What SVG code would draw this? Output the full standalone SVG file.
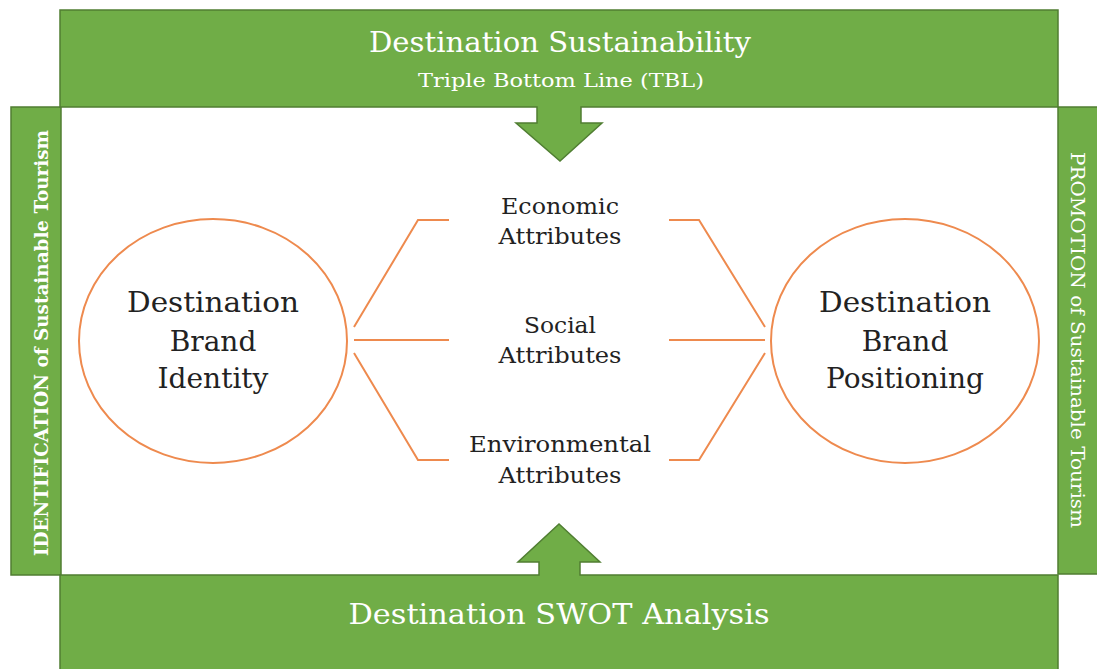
<svg xmlns="http://www.w3.org/2000/svg" width="1097" height="669" viewBox="0 0 1097 669">
<style>
.band{fill:#70AD47;stroke:#507E32;stroke-width:1.5}
.wt{fill:#FFFFFF;font-family:"DejaVu Serif","Liberation Serif",serif}
.bold{font-weight:bold}
.bt{fill:#222222;font-family:"DejaVu Serif","Liberation Serif",serif;text-anchor:middle}
.ring{fill:#FFFFFF;stroke:#EE8A4E;stroke-width:2}
.link{fill:none;stroke:#EE8A4E;stroke-width:2}
</style>
<rect width="1097" height="669" fill="#FFFFFF"/>
<g id="identification">
<rect class="band" x="11" y="107" width="50" height="468"/>
<text class="wt bold" transform="translate(48,343) rotate(-90)" text-anchor="middle" font-size="18" textLength="426" lengthAdjust="spacingAndGlyphs">IDENTIFICATION of Sustainable Tourism</text>
</g>
<g id="promotion">
<rect class="band" x="1058" y="107" width="45" height="467"/>
<text class="wt" transform="translate(1071,340) rotate(90)" text-anchor="middle" font-size="19" textLength="376" lengthAdjust="spacingAndGlyphs">PROMOTION of Sustainable Tourism</text>
</g>
<g id="sustainability">
<path class="band" d="M60,10 H1058 V107 H581 V123 H602 L560,161 L516,123 H537 V107 H60 Z"/>
<text class="wt" x="560" y="52" text-anchor="middle" font-size="27" textLength="382" lengthAdjust="spacingAndGlyphs">Destination Sustainability</text>
<text class="wt" x="561" y="87" text-anchor="middle" font-size="19" textLength="286" lengthAdjust="spacingAndGlyphs">Triple Bottom Line (TBL)</text>
</g>
<g id="swot">
<path class="band" d="M60,575 H539 V562 H518 L559,524 L600,562 H580 V575 H1058 V675 H60 Z"/>
<text class="wt" x="559" y="624" text-anchor="middle" font-size="28" textLength="421" lengthAdjust="spacingAndGlyphs">Destination SWOT Analysis</text>
</g>
<g id="connectors">
<polyline class="link" points="449,220 418,220 354,327"/>
<line class="link" x1="354" y1="340" x2="449" y2="340"/>
<polyline class="link" points="354,353 418,460 449,460"/>
<polyline class="link" points="669,220 699,220 765,327"/>
<line class="link" x1="669" y1="340" x2="765" y2="340"/>
<polyline class="link" points="765,353 699,460 669,460"/>
</g>
<g id="brand-identity">
<ellipse class="ring" cx="213" cy="341" rx="134" ry="122"/>
<text class="bt" font-size="28"><tspan x="213" y="312" textLength="172" lengthAdjust="spacingAndGlyphs">Destination</tspan><tspan x="213" y="351">Brand</tspan><tspan x="213" y="388">Identity</tspan></text>
</g>
<g id="brand-positioning">
<ellipse class="ring" cx="905" cy="341" rx="134" ry="122"/>
<text class="bt" font-size="28"><tspan x="905" y="312" textLength="172" lengthAdjust="spacingAndGlyphs">Destination</tspan><tspan x="905" y="351">Brand</tspan><tspan x="905" y="388">Positioning</tspan></text>
</g>
<g id="economic">
<text class="bt" font-size="22"><tspan x="560" y="214" textLength="118" lengthAdjust="spacingAndGlyphs">Economic</tspan><tspan x="560" y="244" textLength="123" lengthAdjust="spacingAndGlyphs">Attributes</tspan></text>
</g>
<g id="social">
<text class="bt" font-size="22"><tspan x="560" y="333" textLength="72" lengthAdjust="spacingAndGlyphs">Social</tspan><tspan x="560" y="363" textLength="123" lengthAdjust="spacingAndGlyphs">Attributes</tspan></text>
</g>
<g id="environmental">
<text class="bt" font-size="22"><tspan x="560" y="452" textLength="182" lengthAdjust="spacingAndGlyphs">Environmental</tspan><tspan x="560" y="483" textLength="123" lengthAdjust="spacingAndGlyphs">Attributes</tspan></text>
</g>
</svg>
